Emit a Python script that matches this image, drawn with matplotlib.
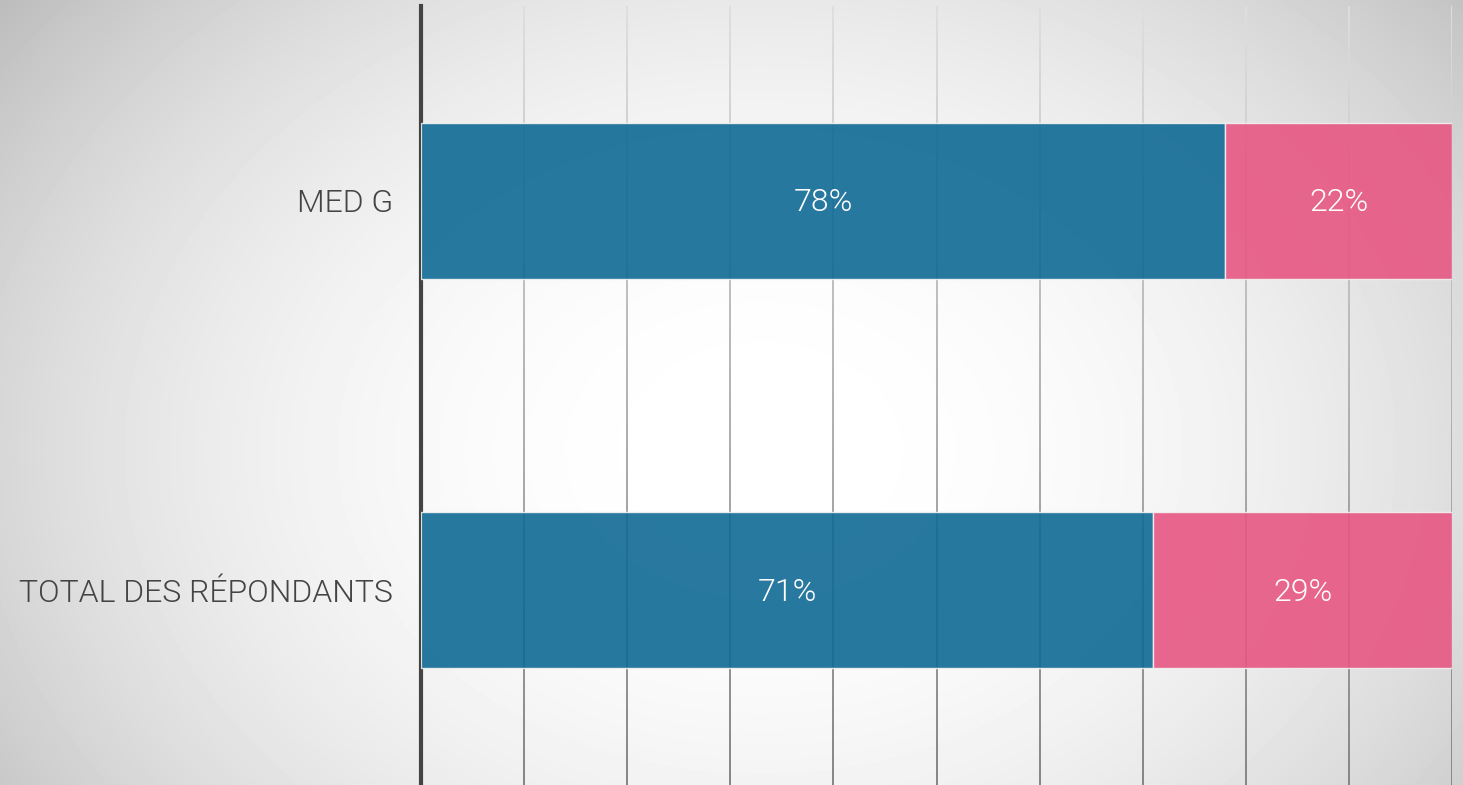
import numpy as np
import matplotlib
matplotlib.use('Agg')
from matplotlib import pyplot as plt
from matplotlib import font_manager
from matplotlib.collections import LineCollection

# Data
categories = ["TOTAL DES RÉPONDANTS", "MED G"]
share_blue = [71, 78]
share_pink = [29, 22]
grid_ticks = [10, 20, 30, 40, 50, 60, 70, 80, 90, 100]

blue = "#106a95"
pink = "#e75783"

plt.rcParams['font.family'] = ['Roboto', 'DejaVu Sans']

# look for the Roboto Light file, fall back to regular Roboto
light_file = None
for f in font_manager.fontManager.ttflist:
    if f.name == "Roboto" and "light" in f.fname.lower() and "italic" not in f.fname.lower():
        light_file = f.fname
        break
if light_file:
    lab_font = font_manager.FontProperties(fname=light_file, size=23)
    val_font = font_manager.FontProperties(fname=light_file, size=23)
else:
    lab_font = font_manager.FontProperties(family="Roboto", size=22.5)
    val_font = font_manager.FontProperties(family="Roboto", size=22.5)

fig = plt.figure(figsize=(14.63, 7.85), dpi=100)

# Radial grey background behind everything
bg = fig.add_axes([0, 0, 1, 1], zorder=0)
w, h = 1463, 785
xx, yy = np.meshgrid(np.arange(w), np.arange(h))
r = np.sqrt(((xx - 760) / 850.0) ** 2 + ((yy - 450) / 650.0) ** 2)
shade = 1.0 - 0.2 * np.clip(r, 0, 1.3) ** 2.2
bg.imshow(shade, cmap="gray", vmin=0, vmax=1, aspect="auto", interpolation="bilinear")
bg.axis("off")

ax = fig.add_axes([421 / w, 0, (1452 - 421) / w, 779 / h], zorder=1)
ax.patch.set_alpha(0)

ypos = np.arange(len(categories))
ax.barh(ypos, share_blue, height=0.4, color=blue, alpha=0.9,
        edgecolor="#f2f2f2", linewidth=1, zorder=3)
ax.barh(ypos, share_pink, left=share_blue, height=0.4, color=pink, alpha=0.9,
        edgecolor="#f2f2f2", linewidth=1, zorder=3)

for i in range(len(categories)):
    ax.text(share_blue[i] / 2, ypos[i] - 0.005, f"{share_blue[i]}%", color="white",
            ha="center", va="center", fontproperties=val_font, zorder=4)
    ax.text(share_blue[i] + share_pink[i] / 2, ypos[i] - 0.005, f"{share_pink[i]}%", color="white",
            ha="center", va="center", fontproperties=val_font, zorder=4)

# vertical gridlines that fade from light at top to darker at bottom
ax.set_ylim(-0.5, 1.5)
ax.set_xlim(0, 100)
n = 60
ys = np.linspace(1.5, -0.5, n + 1)
for t in grid_ticks:
    segs = [[(t, ys[k]), (t, ys[k + 1])] for k in range(n)]
    g = np.linspace(0.87, 0.52, n)
    cols = [(v, v, v, 1) for v in g]
    ax.add_collection(LineCollection(segs, colors=cols, linewidths=1.4, zorder=2))

ax.set_yticks(ypos)
ax.set_yticklabels(categories, fontproperties=lab_font, color="#444444")
ax.tick_params(axis="y", length=0, pad=20)
ax.set_xticks([])
for s in ["top", "right", "bottom"]:
    ax.spines[s].set_visible(False)
ax.spines["left"].set_color("#444444")
ax.spines["left"].set_linewidth(3)

fig.savefig("out.png", dpi=100)
